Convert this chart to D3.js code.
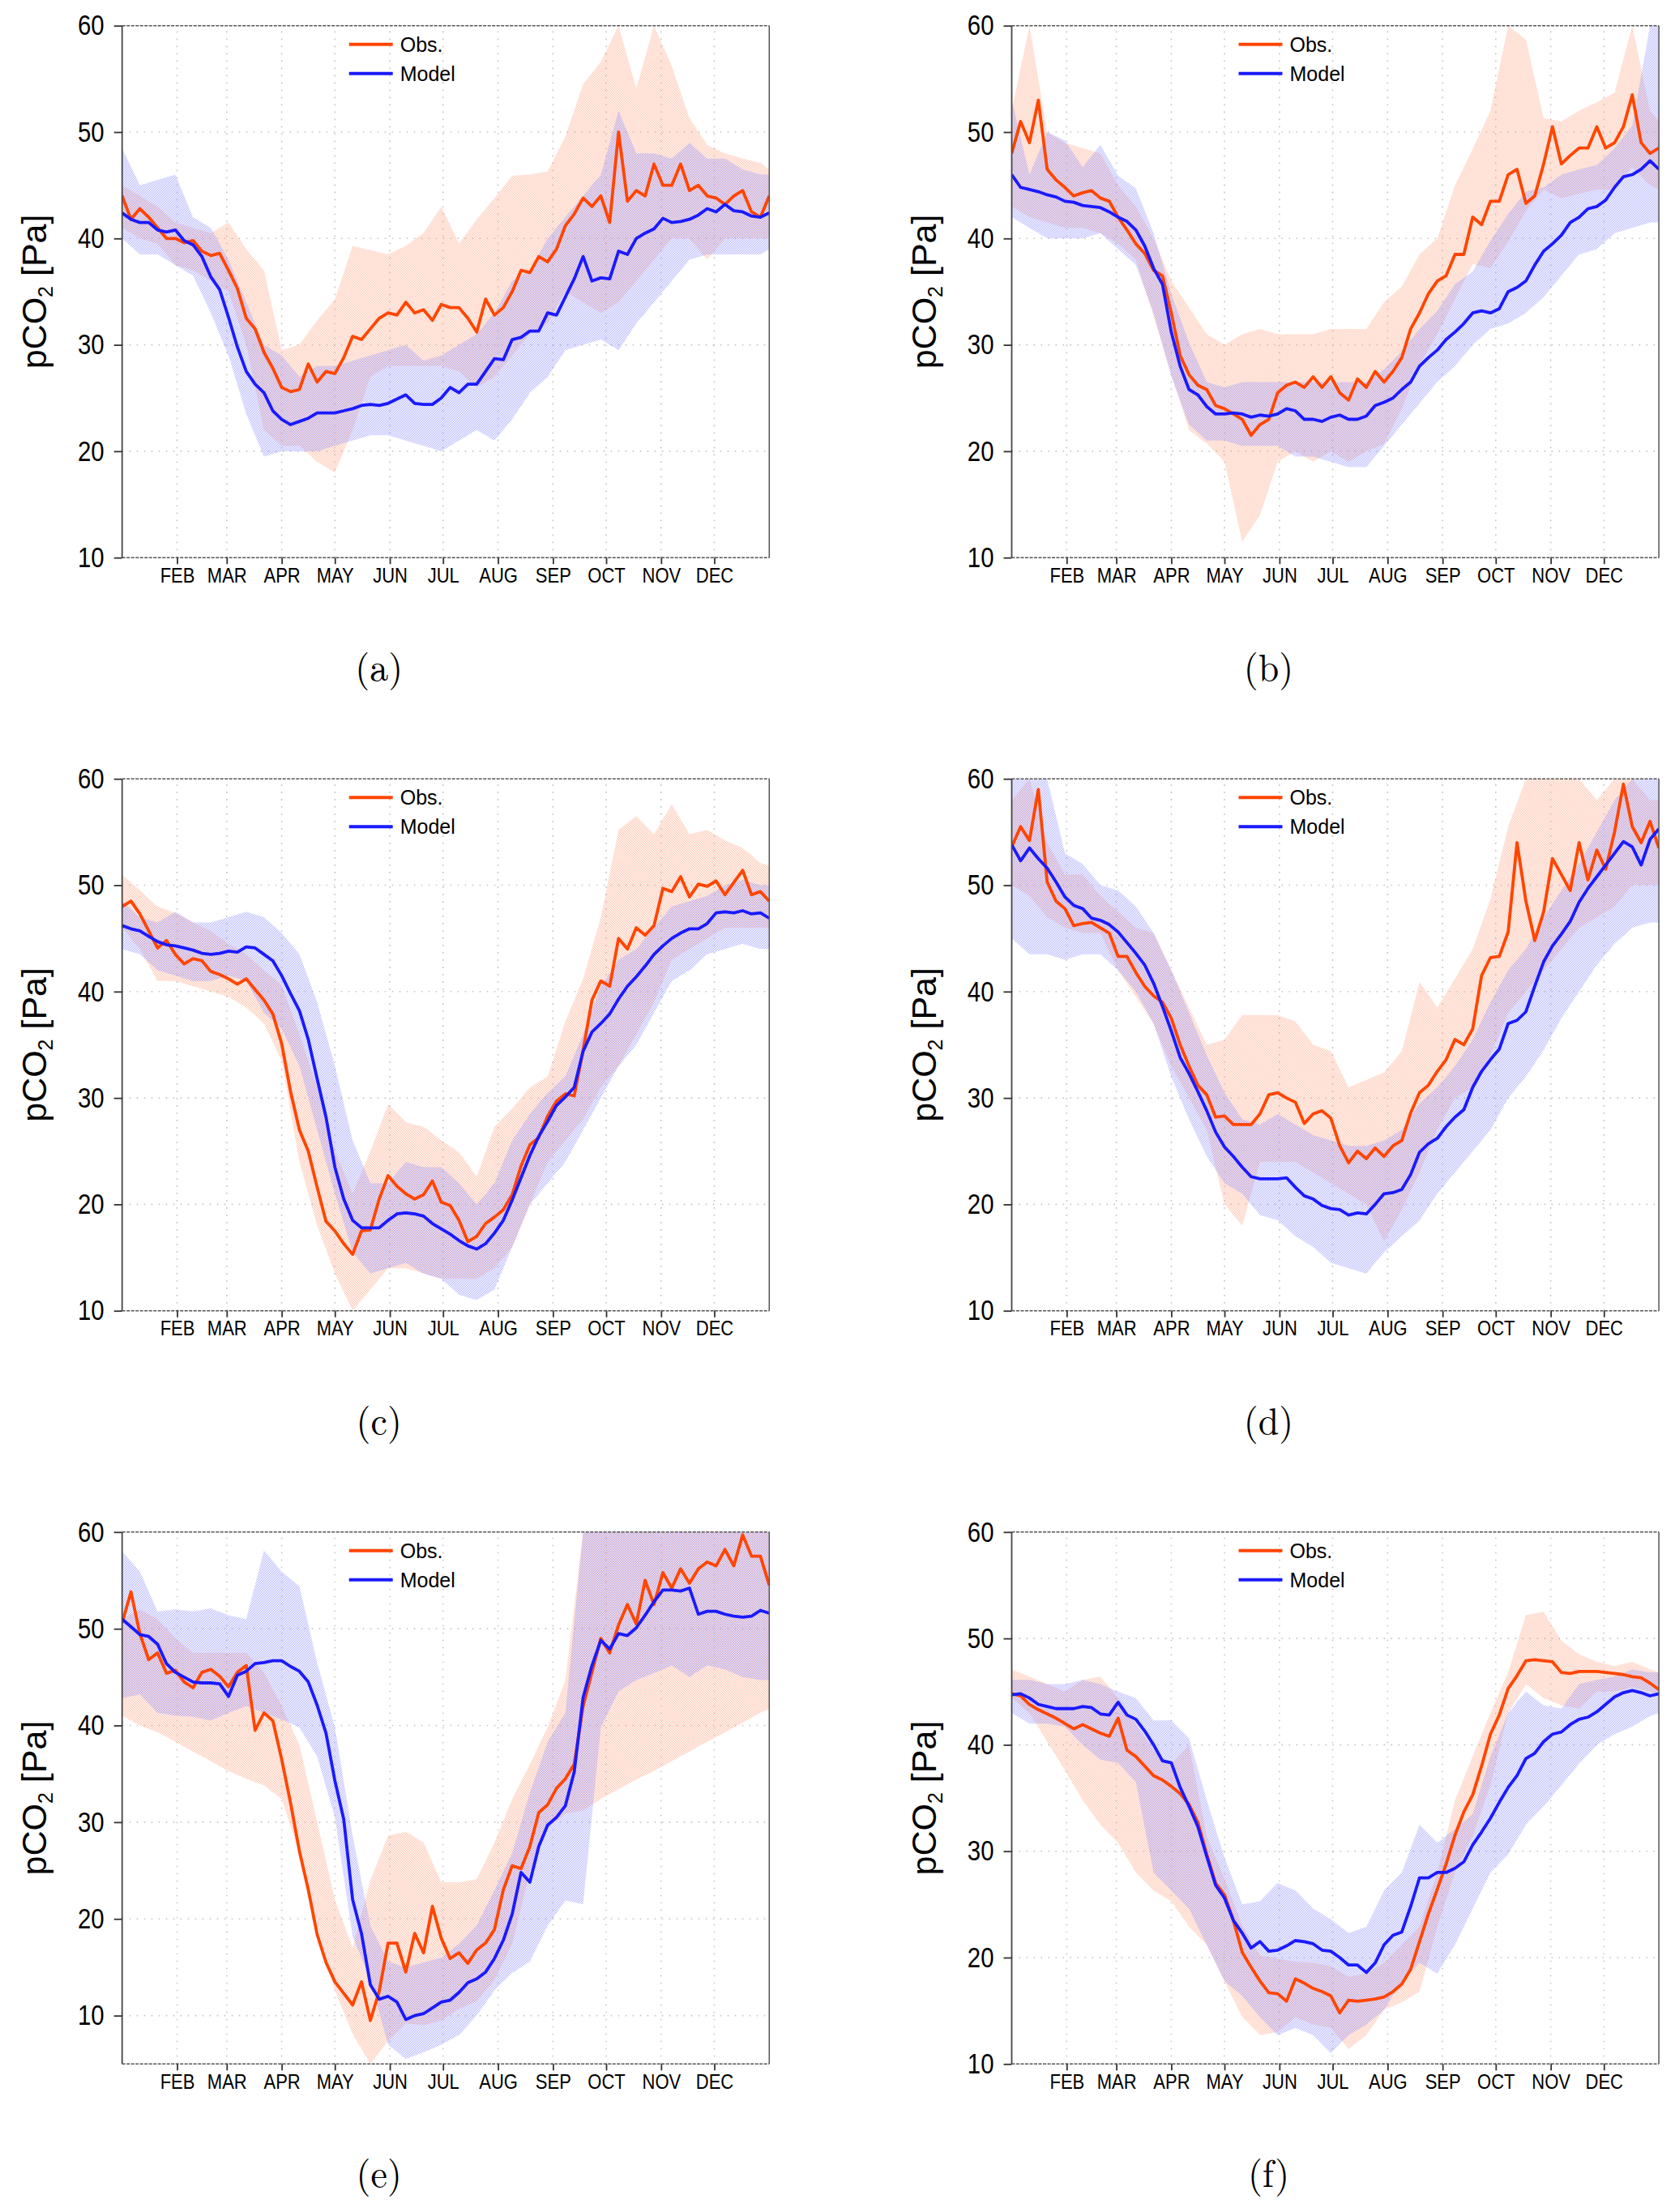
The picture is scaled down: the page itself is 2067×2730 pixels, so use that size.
<!DOCTYPE html>
<html>
<head>
<meta charset="utf-8">
<script src="https://cdn.jsdelivr.net/npm/d3@7/dist/d3.min.js"></script>
<style>
  body { margin: 0; background: #fff; }
  text { white-space: pre; }
</style>
</head>
<body>
<div id="wrapper"></div>
<script>
// day of year for the sampled points
const lineDays = [0,5,10,15,20,25,30,35,40,45,50,55,60,65,70,75,80,85,90,95,100,105,110,115,120,125,130,135,140,145,150,155,160,165,170,175,180,185,190,195,200,205,210,215,220,225,230,235,240,245,250,255,260,265,270,275,280,285,290,295,300,305,310,315,320,325,330,335,340,345,350,355,360,365];
const bandDays = [0,10,20,30,40,50,60,70,80,90,100,110,120,130,140,150,160,170,180,190,200,210,220,230,240,250,260,270,280,290,300,310,320,330,340,350,360,365];

const monthStarts = [31,59,90,120,151,181,212,243,273,304,334];
const monthLabels = ["FEB","MAR","APR","MAY","JUN","JUL","AUG","SEP","OCT","NOV","DEC"];
const yTicks = [10,20,30,40,50,60];
const panelLabels = ["(a)","(b)","(c)","(d)","(e)","(f)"];
const yMins = [10,10,10,10,5,10];

// (a)
const obsA = [44,41.8,42.8,42,41,40,40,39.6,39.8,38.8,38.4,38.6,37,35.3,32.5,31.5,29.3,27.8,26,25.6,25.8,28.2,26.5,27.5,27.3,28.8,30.8,30.5,31.5,32.5,33,32.8,34,33,33.3,32.3,33.8,33.5,33.5,32.5,31.2,34.3,32.8,33.5,35,37,36.8,38.3,37.8,39,41.2,42.3,43.8,43,44,41.5,50,43.5,44.5,44,47,45,45,47,44.5,45,44,43.8,43.2,44,44.5,42.5,42,44];
const modelA = [42.4,41.8,41.5,41.5,40.8,40.6,40.8,39.8,39.4,38.3,36.4,35.2,32.6,29.8,27.5,26.3,25.5,23.8,23,22.5,22.8,23.1,23.6,23.6,23.6,23.8,24,24.3,24.4,24.3,24.5,24.9,25.3,24.5,24.4,24.4,25,26,25.5,26.3,26.3,27.5,28.7,28.6,30.5,30.7,31.3,31.3,33,32.8,34.5,36.2,38.3,36,36.3,36.2,38.8,38.5,40,40.5,40.9,41.9,41.5,41.6,41.8,42.2,42.8,42.5,43.2,42.6,42.5,42.1,42,42.4];
const obsHiA = [45,44,43,41.5,41,40.5,41.5,39,37,29.5,30,32.3,34.3,39.3,38.9,38.5,39.3,40.5,43,39.5,41.8,43.8,45.9,46,46.3,49.6,54.5,56.6,60,54.1,60,56.2,51.3,48.8,48,47.5,47.1,46.5];
const obsLoA = [41,40,39.5,37.5,37,36,35,30,22,20.5,20.5,19,18,22,27,28,28,28,28,27.5,26,27,29,31,32,35,34,33,34,36,38,40,40,38,40,40,40,40];
const modHiA = [48.5,45,45.5,46,42,41,38,34,30,29,27,28,28,28.5,29,29.5,30,28.5,29,30,31,33,36,37,40,42,44,46,52,48,48,47.5,49,47.5,47.5,46.5,46,46];
const modLoA = [40,38.5,38.5,37.5,36.5,33,29,23.5,19.5,20,20,20,20.5,21,21.5,21.5,21,20.5,20,21,22,21,23,25.5,27,29.5,30,30.5,29.5,32,34,36,38,38.5,38.5,38.5,38.5,39];

// (b)
const obsB = [48,51,49,53,46.5,45.5,44.8,44,44.3,44.5,43.8,43.5,42,40.8,39.5,38.6,37,36.5,33,29,27.2,26.2,25.8,24.3,24,23.5,23,21.5,22.5,23,25.5,26.2,26.5,26,27,26,27,25.5,24.8,26.8,26,27.5,26.5,27.5,28.8,31.5,33,34.8,36,36.5,38.5,38.5,42,41.3,43.5,43.5,46,46.5,43.3,44,47,50.5,47,47.8,48.5,48.5,50.5,48.5,49,50.5,53.5,49,48,48.5];
const modelB = [46,44.8,44.6,44.4,44.1,43.9,43.5,43.4,43.1,43,42.9,42.5,42,41.6,40.8,39.3,37.2,35.7,31.2,28,25.8,25.3,24.2,23.5,23.5,23.6,23.5,23.2,23.4,23.3,23.5,24,23.8,23,23,22.8,23.2,23.4,23,23,23.3,24.3,24.6,25,25.8,26.5,28,28.8,29.5,30.5,31.2,32,33,33.2,33,33.4,35,35.4,36,37.5,38.8,39.5,40.3,41.5,42,42.8,43,43.6,44.8,45.8,46,46.5,47.3,46.5];
const obsHiB = [52,60,50,49,48.5,48,45,43,40,36,33.5,31,30,31,31.5,31,31,31,31.5,31.5,31.5,34,35.5,38.5,40,45,48.4,52,60,58.7,51.3,51,52,52.8,53.7,60,52,51];
const obsLoB = [43,42,41.5,41,41,40.5,39.5,38,32.7,27.3,22,20.7,19,11.5,14,19,20,19,20,19,20,20.7,24,28.1,31,34.3,37.6,37.2,39.7,42.6,44.6,43.8,44.2,44.6,44.6,46.7,45,44.6];
const modHiB = [53,46,50,49.2,46.7,48.8,45.9,44.7,40.5,34.8,30.2,26.5,26,26.5,26.5,26.5,26.5,26.5,26.5,26.5,26.5,27.7,29.4,31.5,33.2,35.7,36.9,39.8,42.3,44.4,44.8,46,46.5,46.9,48.5,50.6,60,60];
const modLoB = [42,41,40,40,40,40.5,39,37.5,33,27,22.5,21,21,20.5,20.5,20.5,19.5,19.5,19,18.5,18.5,20.5,22.5,24.5,26.5,28,30,31.5,32,33,34.5,36.5,38.5,39,40.5,41,41.5,41.5];

// (c)
const obsC = [48,48.5,47.3,45.7,44.1,44.8,43.5,42.6,43.1,42.9,41.9,41.6,41.2,40.7,41.2,40.2,39.2,37.9,35.1,30.6,27,25,21.6,18.4,17.5,16.3,15.3,17.5,17.6,20.5,22.7,21.7,21,20.5,20.9,22.2,20.2,19.9,18.5,16.5,17,18.2,18.8,19.5,20.9,23.6,25.6,26.3,28.3,29.7,30.4,30.2,34.5,39.2,41,40.5,45,44,46,45.3,46.2,49.7,49.4,50.8,48.9,50.1,49.9,50.4,49.1,50.25,51.4,49.1,49.4,48.5];
const modelC = [46.2,45.9,45.7,45.2,44.7,44.4,44.3,44.1,43.9,43.6,43.5,43.6,43.8,43.7,44.2,44.1,43.5,42.9,41.5,39.8,38.2,35.5,31.8,28.2,23.5,20.5,18.5,17.8,17.8,17.8,18.5,19.1,19.2,19.1,18.9,18.2,17.7,17.2,16.6,16.1,15.8,16.3,17.3,18.5,20.4,22.5,24.6,26.4,27.8,29.3,30.1,31,34.4,36.2,37,37.9,39.3,40.5,41.4,42.4,43.5,44.3,45,45.5,45.9,45.9,46.4,47.4,47.5,47.4,47.6,47.3,47.4,46.9];
const obsHiC = [51,49.5,48,47.4,46.5,45.7,44.5,43.5,42,40.6,36,31,25,21,25,29.4,27.7,27.3,26,24.9,22.6,27.3,29,31,32,37.2,41.2,47,55.2,56.5,54.8,57.6,54.8,55.2,54.2,53.5,52.1,51.8];
const obsLoC = [46,44,41,41,40.5,40,39.5,38.5,37,33.5,24,18,13.5,10,12,14,14,13.5,13,13,13,14,16,20,24,26,28,31,33,36,39,43,44,45,46,46,46,46];
const modHiC = [48.5,47,46.5,47.5,46.5,46.5,47,47.5,47,45.5,43.5,39,33,26,22,22,24,23.5,23.5,22,20,22,26,28.5,30.5,32,36,40.5,43,44,46,48,48.5,49,50,50.5,50,50];
const modLoC = [44,43.5,42,41.5,41,41,41.5,41,38,36.5,33,27,21,15.5,13.5,14,14.5,13.5,13,11.5,11,12,16,20,22,24,27,30,33,35,38,41,42,43.5,44,44.5,44,44];

// (d)
const obsD = [53.6,55.5,54.2,59,50.3,48.5,47.8,46.2,46.4,46.5,46,45.5,43.3,43.3,41.8,40.5,39.6,39,37.5,35,33,31.2,30.3,28.2,28.3,27.5,27.5,27.5,28.5,30.3,30.5,30,29.6,27.6,28.5,28.8,28.1,25.5,23.9,25,24.3,25.3,24.5,25.5,26,28.6,30.5,31.2,32.5,33.6,35.5,35,36.5,41.5,43.2,43.3,45.6,54,48.5,44.8,47.5,52.5,51,49.5,54,50.5,53.3,51.5,55,59.5,55.5,54,56,53.5];
const modelD = [53.8,52.3,53.5,52.5,51.6,50.3,48.9,48.1,47.8,46.9,46.7,46.3,45.6,44.6,43.6,42.5,40.8,38.6,36.3,33.8,32.3,30.6,28.8,26.8,25.4,24.5,23.5,22.6,22.4,22.4,22.4,22.5,21.6,20.8,20.5,19.9,19.6,19.5,19,19.2,19.1,20,21,21.1,21.4,22.8,24.9,25.7,26.2,27.3,28.2,28.9,31,32.5,33.6,34.6,37,37.3,38.1,40.5,42.8,44.3,45.4,46.6,48.4,49.7,50.8,51.9,53,54.1,53.6,51.9,54.3,55.3];
const obsHiD = [58,60,54,51,51,49,47.5,46,45.5,42,38.5,35,35.5,37.8,37.8,37.8,37.2,35,34.4,31,31.7,32.4,34.4,40.9,38.5,41.2,44,48.7,55.5,60,60,60,60,58,60,60,58,58];
const obsLoD = [50,49,47,46,45.5,45.5,42,39.5,37,33,30,27,20,18,24,24,24,23,22,21,20,16.5,19.5,23,27,30,31,34,38,40,42,44,46,47,48,50,50,50];
const modHiD = [60,60,60,53,52,50,49.5,48,45.5,42,38,34,30.5,28,27.5,28.5,27.5,26.5,26,25.5,25.5,26,27,29.5,31,33,35.5,39,42,44,47,49.5,52,55,58,60,60,60];
const modLoD = [45,43.5,43.5,43,43.5,43.5,42,40,37,32,28,24.5,22,21,19,18.5,17,16,14.5,14,13.5,15.5,17,18.5,21,23,25,27,30,32,34.5,37.5,40,42.5,44.5,46,46.5,46.5];

// (e)
const obsE = [50.6,53.8,49.5,46.8,47.5,45.4,45.7,44.5,43.9,45.5,45.8,45.1,44,45.5,46.2,39.5,41.3,40.5,36.5,32,27,23,18.4,15.5,13.5,12.3,11.1,13.5,9.5,12.5,17.5,17.5,14.5,18.5,16.5,21.3,18,15.9,16.5,15.4,16.8,17.5,18.9,23,25.5,25.2,27.5,31,31.8,33.5,34.5,36,42,45.5,49,47.5,50.4,52.5,50.5,55,52.5,55.8,54.2,56.2,54.7,56.2,56.9,56.5,58.2,56.5,59.7,57.5,57.5,54.5];
const modelE = [51,50.2,49.4,49.2,48.4,46.4,45.5,45,44.5,44.4,44.4,44.3,43,45.2,45.6,46.4,46.5,46.7,46.7,46.1,45.6,44.5,42.1,39.2,34.3,30.3,22,18.5,13.2,11.7,12,11.4,9.6,10,10.2,10.8,11.4,11.6,12.4,13.4,13.8,14.5,15.9,17.8,20.5,24.8,23.8,27.5,29.7,30.5,31.7,35.2,42.9,46.2,48.8,47.9,49.5,49.3,50.1,51.4,52.8,54,54,53.9,54.2,51.5,51.8,51.8,51.5,51.3,51.2,51.3,51.9,51.6];
const obsHiE = [51,52,51,49,47.5,47.5,47.5,47.5,45.5,42,38,30,22,17,24,28.6,29,27.9,23.8,23.8,24.1,27.9,32.4,36,39.8,44.7,60,60,60,60,60,60,60,60,60,60,60,60];
const obsLoE = [41,40,39.3,38.3,37.3,36.3,35.3,34.5,33.8,32.4,26.8,19.3,12.6,8.1,5,7.4,9.2,9,9.5,10.7,11.5,13.7,17.4,24.9,29.4,30.9,31.2,32.4,33.4,34.4,35.3,36.3,37.3,38.3,39.3,40.3,41.3,41.7];
const modHiE = [58,55.9,51.8,52,51.8,52.1,51.4,51,58.1,55.9,54.4,46.5,39.8,28.6,19.3,15.6,15,15.5,16,17.4,19.3,23,26.8,33.1,38.3,41.3,60,60,60,60,60,60,60,60,60,60,60,60];
const modLoE = [42.8,43.2,41.3,41,40.9,40.5,41.3,42,41.3,40.6,39.8,36.8,30.5,18.2,13.7,7,5.5,6.2,7,8,10,12.6,14.4,15.6,19.3,21.9,21.5,39.8,43.5,44.7,45.4,46.2,45,46.2,45.8,45,44.7,44.7];

// (f)
const obsF = [44.8,44.6,43.8,43.3,42.9,42.5,42,41.5,41.9,41.5,41.1,40.8,42.5,39.5,38.9,38,37.1,36.7,36.1,35.4,34.4,32.7,29.7,27,25.9,23.5,20.5,19.1,17.8,16.7,16.6,15.9,18,17.6,17.1,16.8,16.4,14.8,16,15.9,16,16.1,16.3,16.8,17.5,18.9,21.5,24.1,26.4,28.8,31.5,33.7,35.3,38,41,42.8,45.3,46.5,47.9,48,47.9,47.8,46.8,46.7,46.9,46.9,46.9,46.8,46.7,46.6,46.4,46.3,45.8,45.2];
const modelF = [44.7,44.8,44.4,43.8,43.6,43.4,43.4,43.4,43.6,43.5,42.9,42.8,44,42.8,42.4,41.3,40,38.5,38.3,36,34.2,32.3,29.5,26.8,25.6,23.5,22.3,20.9,21.5,20.6,20.7,21.1,21.6,21.5,21.3,20.7,20.6,20,19.3,19.3,18.6,19.5,21.2,22.1,22.4,24.8,27.5,27.5,28,28,28.4,29,30.6,31.8,33.1,34.6,36,37.1,38.7,39.2,40.3,41,41.2,41.9,42.4,42.6,43.1,43.8,44.5,44.9,45.1,44.9,44.6,44.8];
const obsHiF = [47.1,46.4,45.7,45,46.1,46.4,44.4,42,39.5,38.2,40,31.4,27.4,23,20.2,19.9,19.6,19.5,19.2,18.2,18.5,19.5,21.2,22.9,28,34.8,38.9,43,46.8,52.2,52.5,49.8,48.5,47.8,47.4,47.8,47.1,46.8];
const obsLoF = [44.4,43,40.3,37.6,34.8,32.5,30.8,28,26.3,25.3,22.9,21.2,17.8,14.4,12.7,13,14.4,13.7,13.4,11.4,12.7,15.1,15.8,16.8,22.9,28,31.4,36.2,43,45.7,44.4,43.7,43.4,45,45,45.4,45,44.7];
const modHiF = [46.1,46.1,45.7,45.7,46.1,45.7,45,44.4,42.3,42.3,40.6,34.8,29.4,25,25.3,27,26.3,24.6,23.6,22.3,22.9,26.3,28,32.5,30.8,32.1,33.5,38.9,43,45,43.7,43.4,45.7,46.1,46.4,47.1,46.8,46.8];
const modLoF = [43,42,42,41.7,40,38.6,38.3,36.5,28,26.3,24.6,21.2,17.8,16.4,14.4,12.7,13.4,12.7,11,12.7,13.7,15.1,17.8,19.5,18.5,21.2,24.6,28,29.7,32.5,34.2,36.2,38.2,40,41,41.7,42.7,43];

const obsColor = "#ff4500";
const modelColor = "#1a1aff";

let dimensions = {
  width: 2067,
  height: 2730,
  panelWidth: 798.6,
  panelHeight: 656.5,
  colLeft: [150.7, 1248.5],
  rowTop: [31.7, 961.2, 1890.8],
};

const panels = [
  { obs: obsA, model: modelA, obsLo: obsLoA, obsHi: obsHiA, modLo: modLoA, modHi: modHiA },
  { obs: obsB, model: modelB, obsLo: obsLoB, obsHi: obsHiB, modLo: modLoB, modHi: modHiB },
  { obs: obsC, model: modelC, obsLo: obsLoC, obsHi: obsHiC, modLo: modLoC, modHi: modHiC },
  { obs: obsD, model: modelD, obsLo: obsLoD, obsHi: obsHiD, modLo: modLoD, modHi: modHiD },
  { obs: obsE, model: modelE, obsLo: obsLoE, obsHi: obsHiE, modLo: modLoE, modHi: modHiE },
  { obs: obsF, model: modelF, obsLo: obsLoF, obsHi: obsHiF, modLo: modLoF, modHi: modHiF },
];

// no narrow face installed: squeeze Liberation Sans instead
const tickFont = "'Liberation Sans', Arial, sans-serif";

const svg = d3.select("#wrapper").append("svg")
  .attr("width", dimensions.width)
  .attr("height", dimensions.height)
  .style("display", "block");

const defs = svg.append("defs");

// hatch patterns for the spread bands
const hatch = (id, color, d) => {
  defs.append("pattern")
    .attr("id", id)
    .attr("patternUnits", "userSpaceOnUse")
    .attr("width", 3).attr("height", 3)
    .append("path")
    .attr("d", d)
    .attr("stroke", color)
    .attr("stroke-width", 0.95)
    .attr("fill", "none");
};
hatch("hatchObs", "#ffa383", "M-1,2 l2,2 M0,0 l3,3 M2,-1 l2,2");
hatch("hatchModel", "#8f8fff", "M-1,1 l2,-2 M0,3 l3,-3 M2,4 l2,-2");

panels.forEach((p, i) => {
  const col = i % 2, row = Math.floor(i / 2);
  const left = dimensions.colLeft[col];
  const top = dimensions.rowTop[row];
  const w = dimensions.panelWidth, h = dimensions.panelHeight;

  const xScale = d3.scaleLinear().domain([0, 365]).range([0, w]);
  const yScale = d3.scaleLinear().domain([yMins[i], 60]).range([h, 0]);

  const bounds = svg.append("g")
    .attr("transform", `translate(${left},${top})`);

  defs.append("clipPath").attr("id", `clip${i}`)
    .append("rect").attr("width", w).attr("height", h);

  // grid
  const grid = bounds.append("g")
    .attr("stroke", "#c4c4c4")
    .attr("stroke-width", 1.6)
    .attr("stroke-dasharray", "1.6,7.4");
  grid.selectAll("line.v").data(monthStarts).join("line")
    .attr("x1", d => xScale(d)).attr("x2", d => xScale(d))
    .attr("y1", h).attr("y2", 0);
  grid.selectAll("line.h").data(yTicks.filter(t => t > yMins[i] && t < 60)).join("line")
    .attr("x1", 0).attr("x2", w)
    .attr("y1", d => yScale(d)).attr("y2", d => yScale(d));

  const plot = bounds.append("g").attr("clip-path", `url(#clip${i})`);

  const areaGenerator = d3.area()
    .x(d => xScale(d[0]))
    .y0(d => yScale(d[1]))
    .y1(d => yScale(d[2]));

  plot.append("path")
    .attr("d", areaGenerator(d3.zip(bandDays, p.obsLo, p.obsHi)))
    .attr("fill", "url(#hatchObs)");
  plot.append("path")
    .attr("d", areaGenerator(d3.zip(bandDays, p.modLo, p.modHi)))
    .attr("fill", "url(#hatchModel)");

  const lineGenerator = d3.line()
    .x(d => xScale(d[0]))
    .y(d => yScale(d[1]));

  plot.append("path")
    .attr("d", lineGenerator(d3.zip(lineDays, p.obs)))
    .attr("fill", "none")
    .attr("stroke", obsColor)
    .attr("stroke-width", 3.8)
    .attr("stroke-linejoin", "round");
  plot.append("path")
    .attr("d", lineGenerator(d3.zip(lineDays, p.model)))
    .attr("fill", "none")
    .attr("stroke", modelColor)
    .attr("stroke-width", 3.8)
    .attr("stroke-linejoin", "round");

  // frame: solid sides, dashed top and bottom
  bounds.append("line").attr("x1", 0).attr("x2", 0).attr("y1", 0).attr("y2", h)
    .attr("stroke", "#444").attr("stroke-width", 1.8);
  bounds.append("line").attr("x1", w).attr("x2", w).attr("y1", 0).attr("y2", h)
    .attr("stroke", "#555").attr("stroke-width", 1.5);
  [0, h].forEach(yy => {
    bounds.append("line").attr("x1", 0).attr("x2", w).attr("y1", yy).attr("y2", yy)
      .attr("stroke", "#555").attr("stroke-width", 1.6)
      .attr("stroke-dasharray", "4,1.5");
  });

  // axes
  const yAxisGenerator = d3.axisLeft(yScale)
    .tickValues(yTicks).tickSize(10).tickPadding(12).tickFormat(d3.format("d"));
  const yAxis = bounds.append("g").call(yAxisGenerator);
  yAxis.select(".domain").remove();
  yAxis.selectAll("line").attr("stroke", "#333").attr("stroke-width", 1.8);
  yAxis.selectAll("text")
    .attr("x", 0)
    .attr("transform", "translate(-22,0) scale(0.84,1)")
    .attr("font-family", tickFont).attr("font-size", 35).attr("fill", "#000");

  const xAxisGenerator = d3.axisBottom(xScale)
    .tickValues(monthStarts).tickSize(8).tickPadding(5)
    .tickFormat((d, k) => monthLabels[k]);
  const xAxis = bounds.append("g")
    .attr("transform", `translate(0,${h})`)
    .call(xAxisGenerator);
  xAxis.select(".domain").remove();
  xAxis.selectAll("line").attr("stroke", "#333").attr("stroke-width", 1.8);
  xAxis.selectAll("text")
    .attr("transform", "scale(0.88,1)")
    .attr("font-family", tickFont).attr("font-size", 25).attr("fill", "#000");

  // y label
  const yLabel = bounds.append("text")
    .attr("transform", `translate(-94,${h / 2}) rotate(-90)`)
    .attr("text-anchor", "middle")
    .attr("font-family", "'Liberation Sans', Arial, sans-serif")
    .attr("font-size", 43)
    .attr("fill", "#000");
  yLabel.append("tspan").text("pCO");
  yLabel.append("tspan").attr("font-size", 25).attr("dy", 8).text("2");
  yLabel.append("tspan").attr("dy", -8).text(" [Pa]");

  // legend
  const legend = bounds.append("g")
    .attr("font-family", "'Liberation Sans', Arial, sans-serif")
    .attr("font-size", 25);
  [["Obs.", obsColor, 23], ["Model", modelColor, 59]].forEach(([name, color, dy]) => {
    legend.append("line")
      .attr("x1", 280).attr("x2", 334).attr("y1", dy).attr("y2", dy)
      .attr("stroke", color).attr("stroke-width", 4);
    legend.append("text")
      .attr("x", 343).attr("y", dy + 9)
      .attr("fill", "#000")
      .text(name);
  });

  // panel label
  bounds.append("text")
    .attr("x", 317).attr("y", h + 152)
    .attr("text-anchor", "middle")
    .attr("font-family", "'Latin Modern Roman', 'DejaVu Serif', 'Liberation Serif', serif")
    .attr("font-size", 46)
    .attr("fill", "#000")
    .text(panelLabels[i]);
});
</script>
</body>
</html>
